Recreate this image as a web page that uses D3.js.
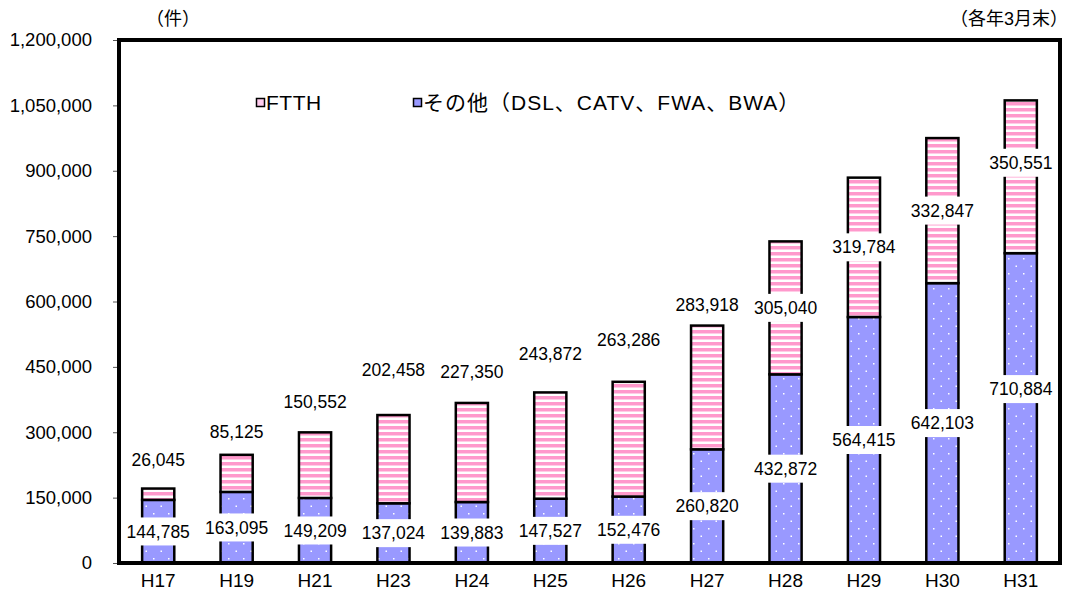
<!DOCTYPE html>
<html>
<head>
<meta charset="utf-8">
<script src="https://cdn.jsdelivr.net/npm/d3@7"></script>
<style>
  body { margin: 0; background: #fff; }
  svg { display: block; font-family: "Liberation Sans", "Noto Sans CJK JP", sans-serif; }
</style>
</head>
<body>
<svg id="chart" width="1072" height="599"></svg>
<script>
const categories = ['H17', 'H19', 'H21', 'H23', 'H24', 'H25', 'H26', 'H27', 'H28', 'H29', 'H30', 'H31'];
const otherValues = [144785, 163095, 149209, 137024, 139883, 147527, 152476, 260820, 432872, 564415, 642103, 710884];
const ftthValues = [26045, 85125, 150552, 202458, 227350, 243872, 263286, 283918, 305040, 319784, 332847, 350551];
const yTicks = [0, 150000, 300000, 450000, 600000, 750000, 900000, 1050000, 1200000];
const seriesNames = ['FTTH', 'その他（DSL、CATV、FWA、BWA）'];

// label placement (px), matched to the original by eye
const ftthInside = [false, false, false, false, false, false, false, false, true, true, true, true];
const ftthLabelLift = [29, 23, 30, 45, 31, 39, 42, 21, 0, 0, 0, 14];
const otherLabelLift = [0, 0, 0, 0, 0, 0, 0, 0, 0, 0, 0, 19];

const margin = { top: 40, right: 12, bottom: 36, left: 119 };
const width = 1072;
const height = 599;
const plotRight = width - margin.right;
const plotBottom = height - margin.bottom;

const svg = d3.select('#chart');
const defs = svg.append('defs');

const stripes = defs.append('pattern')
  .attr('id', 'stripes')
  .attr('patternUnits', 'userSpaceOnUse')
  .attr('width', 8)
  .attr('height', 6);
stripes.append('rect').attr('width', 8).attr('height', 6).attr('fill', '#fff');
stripes.append('rect').attr('y', 0).attr('width', 8).attr('height', 3).attr('fill', '#ff99cc');
stripes.append('rect').attr('y', 3).attr('width', 8).attr('height', 1).attr('fill', '#ffcce6');

const dots = defs.append('pattern')
  .attr('id', 'dots')
  .attr('patternUnits', 'userSpaceOnUse')
  .attr('width', 15)
  .attr('height', 15);
dots.append('rect').attr('width', 15).attr('height', 15).attr('fill', '#9999ff');
dots.append('rect').attr('x', 3).attr('y', 3).attr('width', 1.5).attr('height', 1.5).attr('fill', '#fff');
dots.append('rect').attr('x', 10.5).attr('y', 10.5).attr('width', 1.5).attr('height', 1.5).attr('fill', '#fff');

const xScale = d3.scaleBand()
  .domain(categories)
  .range([margin.left, plotRight])
  .paddingInner(0.59)
  .paddingOuter(0.295);

const yScale = d3.scaleLinear()
  .domain([0, 1200000])
  .range([plotBottom, margin.top]);

const rows = categories.map((cat, i) => ({
  cat,
  other: otherValues[i],
  ftth: ftthValues[i],
  index: i
}));

// y axis ticks and labels
const yAxis = svg.append('g')
  .attr('transform', `translate(${margin.left},0)`)
  .call(d3.axisLeft(yScale).tickValues(yTicks).tickFormat(d3.format(',')).tickSize(6).tickPadding(21));
yAxis.select('.domain').remove();
yAxis.selectAll('line').attr('stroke', '#555');
yAxis.selectAll('text').attr('font-size', 18.5).attr('fill', '#000')
  .attr('font-family', '"Liberation Sans", sans-serif');

// x axis labels
const xAxis = svg.append('g')
  .attr('transform', `translate(0,${plotBottom})`)
  .call(d3.axisBottom(xScale).tickSize(0).tickPadding(11));
xAxis.select('.domain').remove();
xAxis.selectAll('text').attr('font-size', 19).attr('fill', '#000')
  .attr('font-family', '"Liberation Sans", sans-serif');

// bars
const bw = xScale.bandwidth();
const barGroup = svg.append('g');
barGroup.selectAll('.other')
  .data(rows)
  .join('rect')
  .attr('class', 'other')
  .attr('x', (d) => xScale(d.cat))
  .attr('y', (d) => yScale(d.other))
  .attr('width', bw)
  .attr('height', (d) => yScale(0) - yScale(d.other))
  .attr('fill', 'url(#dots)')
  .attr('stroke', '#000')
  .attr('stroke-width', 2.5);

barGroup.selectAll('.ftth')
  .data(rows)
  .join('rect')
  .attr('class', 'ftth')
  .attr('x', (d) => xScale(d.cat))
  .attr('y', (d) => yScale(d.other + d.ftth))
  .attr('width', bw)
  .attr('height', (d) => yScale(d.other) - yScale(d.other + d.ftth))
  .attr('fill', 'url(#stripes)')
  .attr('stroke', '#000')
  .attr('stroke-width', 2.5);

// plot frame
svg.append('rect')
  .attr('x', margin.left)
  .attr('y', margin.top)
  .attr('width', plotRight - margin.left)
  .attr('height', plotBottom - margin.top)
  .attr('fill', 'none')
  .attr('stroke', '#000')
  .attr('stroke-width', 4);

// data labels with white boxes
const fmt = d3.format(',');
const labelGroup = svg.append('g');

function addLabel(x, y, text) {
  const g = labelGroup.append('g').attr('transform', `translate(${x},${y})`);
  const t = g.append('text')
    .attr('text-anchor', 'middle')
    .attr('dy', '0.35em')
    .attr('font-size', 17.5)
    .attr('fill', '#000')
    .text(text);
  const box = t.node().getBBox();
  g.insert('rect', 'text')
    .attr('x', box.x - 4)
    .attr('y', -14)
    .attr('width', box.width + 8)
    .attr('height', 28)
    .attr('fill', '#fff');
}

rows.forEach((d) => {
  const cx = xScale(d.cat) + bw / 2;
  const otherY = (yScale(0) + yScale(d.other)) / 2 - otherLabelLift[d.index];
  addLabel(cx, otherY, fmt(d.other));
  let ftthY;
  if (ftthInside[d.index]) {
    ftthY = (yScale(d.other) + yScale(d.other + d.ftth)) / 2 - ftthLabelLift[d.index];
  } else {
    ftthY = yScale(d.other + d.ftth) - ftthLabelLift[d.index];
  }
  addLabel(cx, ftthY, fmt(d.ftth));
});

// legend
const legend = svg.append('g').attr('transform', 'translate(256,103)');
const legendFills = ['#ffccee', '#9999ff'];
const legendX = [0, 157];
seriesNames.forEach((name, i) => {
  const item = legend.append('g').attr('transform', `translate(${legendX[i]},0)`);
  item.append('rect')
    .attr('x', 0.5)
    .attr('y', -4.5)
    .attr('width', 8)
    .attr('height', 8)
    .attr('fill', legendFills[i])
    .attr('stroke', '#000')
    .attr('stroke-width', 1.5);
  item.append('text')
    .attr('x', 10)
    .attr('dy', '0.35em')
    .attr('font-size', 21)
    .attr('letter-spacing', i === 1 ? 1 : 0.5)
    .attr('fill', '#000')
    .text(name);
});

// unit notes
svg.append('text')
  .attr('x', 146)
  .attr('y', 25)
  .attr('font-size', 18)
  .attr('fill', '#000')
  .text('（件）');

svg.append('text')
  .attr('x', 1068)
  .attr('y', 25)
  .attr('text-anchor', 'end')
  .attr('font-size', 18)
  .attr('fill', '#000')
  .text('（各年3月末）');
</script>
</body>
</html>
